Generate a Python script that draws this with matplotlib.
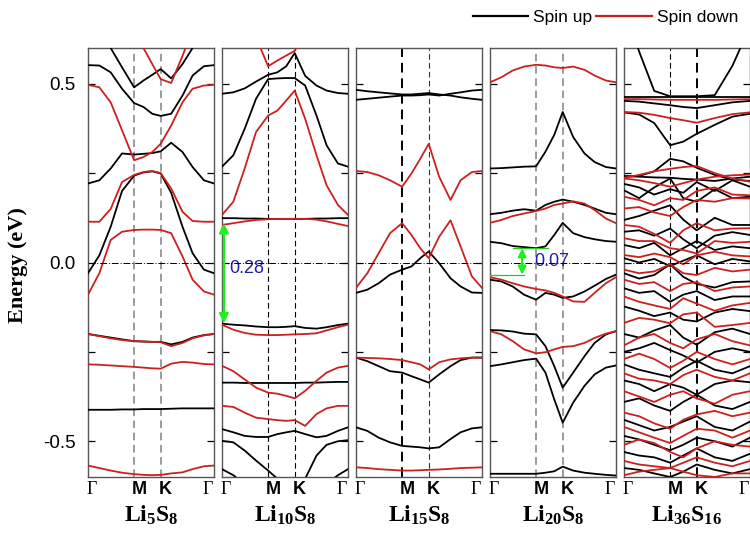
import numpy as np
import matplotlib.pyplot as plt
from matplotlib.lines import Line2D

plt.rcParams['font.family'] = ['Liberation Sans', 'DejaVu Sans']
plt.rcParams['mathtext.fontset'] = 'custom'
plt.rcParams['mathtext.rm'] = 'Liberation Serif'
plt.rcParams['mathtext.bf'] = 'Liberation Serif:bold'
plt.rcParams['axes.unicode_minus'] = False

# k path fractions: Gamma - M - K - Gamma
k13 = [0, 0.09, 0.18, 0.27, 0.366, 0.44, 0.51, 0.577, 0.66, 0.75, 0.83, 0.92, 1.0]
k9 = [0, 0.12, 0.24, 0.366, 0.47, 0.577, 0.72, 0.86, 1.0]
kM, kK = 0.366, 0.577

# ---- Li5S8 ----
li5_up = [
    [0.75, 0.68, 0.60, 0.546, 0.49, 0.509, 0.525, 0.541, 0.515, 0.555, 0.60, 0.68, 0.75],
    [0.552, 0.551, 0.532, 0.486, 0.446, 0.435, 0.416, 0.41, 0.416, 0.467, 0.523, 0.549, 0.552],
    [0.221, 0.23, 0.263, 0.305, 0.302, 0.304, 0.306, 0.311, 0.335, 0.309, 0.267, 0.23, 0.221],
    [-0.03, 0.02, 0.10, 0.20, 0.243, 0.252, 0.255, 0.249, 0.195, 0.10, 0.026, -0.02, -0.03],
    [-0.2, -0.205, -0.21, -0.215, -0.22, -0.221, -0.222, -0.222, -0.229, -0.222, -0.21, -0.203, -0.2],
    [-0.412, -0.412, -0.412, -0.411, -0.411, -0.41, -0.41, -0.41, -0.409, -0.408, -0.408, -0.408, -0.408],
]
li5_dn = [
    [0.8, 0.8, 0.75, 0.7, 0.65, 0.6, 0.555, 0.513, 0.502, 0.578, 0.65, 0.75, 0.8],
    [0.497, 0.49, 0.448, 0.37, 0.286, 0.295, 0.309, 0.332, 0.383, 0.448, 0.486, 0.495, 0.497],
    [0.114, 0.114, 0.15, 0.225, 0.245, 0.253, 0.256, 0.25, 0.207, 0.142, 0.116, 0.114, 0.114],
    [-0.09, -0.03, 0.063, 0.086, 0.091, 0.092, 0.092, 0.091, 0.082, 0.017, -0.048, -0.081, -0.09],
    [-0.2, -0.206, -0.212, -0.217, -0.22, -0.221, -0.222, -0.223, -0.234, -0.225, -0.212, -0.204, -0.2],
    [-0.285, -0.286, -0.288, -0.29, -0.292, -0.294, -0.296, -0.297, -0.283, -0.278, -0.28, -0.284, -0.285],
    [-0.568, -0.575, -0.582, -0.588, -0.592, -0.594, -0.595, -0.594, -0.59, -0.587, -0.578, -0.57, -0.568],
]

# ---- Li10S8 ----
li10_up = [
    [0.472, 0.476, 0.487, 0.506, 0.525, 0.532, 0.549, 0.586, 0.522, 0.495, 0.481, 0.474, 0.472],
    [0.268, 0.30, 0.374, 0.458, 0.513, 0.515, 0.516, 0.516, 0.495, 0.411, 0.328, 0.277, 0.268],
    [0.124, 0.124, 0.123, 0.123, 0.122, 0.122, 0.122, 0.122, 0.122, 0.123, 0.123, 0.124, 0.124],
    [-0.171, -0.174, -0.176, -0.179, -0.181, -0.181, -0.18, -0.178, -0.183, -0.185, -0.181, -0.175, -0.171],
    [-0.336, -0.336, -0.337, -0.337, -0.337, -0.337, -0.337, -0.337, -0.336, -0.336, -0.335, -0.334, -0.334],
    [-0.466, -0.475, -0.485, -0.488, -0.488, -0.48, -0.475, -0.471, -0.48, -0.489, -0.485, -0.471, -0.461],
    [-0.499, -0.503, -0.526, -0.554, -0.582, -0.605, -0.625, -0.64, -0.605, -0.54, -0.51, -0.5, -0.497],
    [-0.578, -0.595, -0.62, -0.7, -0.75, -0.78, -0.8, -0.8, -0.75, -0.68, -0.62, -0.595, -0.578],
]
li10_dn = [
    [0.8, 0.75, 0.7, 0.63, 0.549, 0.565, 0.579, 0.592, 0.65, 0.72, 0.78, 0.8, 0.8],
    [0.133, 0.17, 0.263, 0.365, 0.411, 0.425, 0.453, 0.481, 0.402, 0.30, 0.216, 0.161, 0.133],
    [0.105, 0.11, 0.115, 0.119, 0.121, 0.122, 0.122, 0.122, 0.122, 0.12, 0.115, 0.108, 0.102],
    [-0.174, -0.188, -0.197, -0.202, -0.203, -0.203, -0.202, -0.201, -0.2, -0.198, -0.19, -0.181, -0.174],
    [-0.289, -0.304, -0.327, -0.35, -0.364, -0.367, -0.373, -0.38, -0.359, -0.331, -0.308, -0.294, -0.289],
    [-0.401, -0.404, -0.42, -0.434, -0.438, -0.441, -0.443, -0.441, -0.457, -0.424, -0.408, -0.401, -0.401],
]

# ---- Li15S8 ----
li15_up = [
    [0.483, 0.479, 0.476, 0.473, 0.47, 0.47, 0.472, 0.474, 0.47, 0.467, 0.462, 0.458, 0.455],
    [0.455, 0.458, 0.461, 0.464, 0.467, 0.467, 0.468, 0.47, 0.467, 0.472, 0.476, 0.481, 0.483],
    [-0.085, -0.076, -0.058, -0.034, -0.02, -0.011, 0.012, 0.031, -0.002, -0.044, -0.067, -0.084, -0.085],
    [-0.266, -0.276, -0.29, -0.304, -0.308, -0.318, -0.327, -0.336, -0.313, -0.29, -0.273, -0.266, -0.266],
    [-0.461, -0.471, -0.49, -0.503, -0.513, -0.515, -0.517, -0.52, -0.517, -0.494, -0.475, -0.464, -0.461],
]
li15_dn = [
    [0.256, 0.253, 0.244, 0.23, 0.212, 0.249, 0.29, 0.332, 0.24, 0.175, 0.23, 0.253, 0.256],
    [-0.071, -0.03, 0.026, 0.082, 0.11, 0.077, 0.04, 0.012, 0.072, 0.118, 0.045, -0.039, -0.071],
    [-0.266, -0.267, -0.268, -0.27, -0.273, -0.279, -0.285, -0.299, -0.279, -0.271, -0.268, -0.266, -0.266],
    [-0.573, -0.575, -0.578, -0.58, -0.582, -0.582, -0.581, -0.58, -0.579, -0.577, -0.575, -0.574, -0.573],
]

# ---- Li20S8 ----
li20_up = [
    [0.263, 0.264, 0.266, 0.268, 0.269, 0.31, 0.357, 0.421, 0.351, 0.305, 0.281, 0.267, 0.263],
    [0.135, 0.139, 0.145, 0.149, 0.145, 0.161, 0.17, 0.176, 0.17, 0.161, 0.151, 0.139, 0.135],
    [0.058, 0.054, 0.046, 0.043, 0.04, 0.045, 0.077, 0.111, 0.082, 0.071, 0.065, 0.06, 0.058],
    [-0.048, -0.053, -0.067, -0.09, -0.104, -0.085, -0.09, -0.099, -0.095, -0.081, -0.065, -0.046, -0.034],
    [-0.189, -0.19, -0.193, -0.199, -0.201, -0.234, -0.29, -0.35, -0.308, -0.262, -0.225, -0.201, -0.192],
    [-0.29, -0.285, -0.279, -0.273, -0.269, -0.308, -0.383, -0.448, -0.392, -0.345, -0.313, -0.294, -0.288],
    [-0.591, -0.591, -0.591, -0.591, -0.591, -0.588, -0.584, -0.571, -0.582, -0.588, -0.591, -0.594, -0.596],
]
li20_dn = [
    [0.504, 0.518, 0.537, 0.548, 0.553, 0.551, 0.546, 0.544, 0.548, 0.539, 0.523, 0.509, 0.504],
    [0.111, 0.119, 0.13, 0.137, 0.144, 0.151, 0.161, 0.165, 0.171, 0.165, 0.147, 0.123, 0.11],
    [-0.041, -0.048, -0.058, -0.067, -0.074, -0.078, -0.085, -0.095, -0.109, -0.11, -0.085, -0.058, -0.041],
    [-0.192, -0.201, -0.22, -0.243, -0.254, -0.251, -0.243, -0.236, -0.234, -0.225, -0.211, -0.199, -0.192],
]

# ---- Li36S16 (dense, coarser k grid) ----
li36_up = [
    [0.72, 0.59, 0.48, 0.465, 0.465, 0.465, 0.468, 0.55, 0.66],
    [0.462, 0.462, 0.462, 0.462, 0.462, 0.462, 0.462, 0.462, 0.462],
    [0.452, 0.45, 0.445, 0.44, 0.435, 0.432, 0.44, 0.448, 0.452],
    [0.42, 0.414, 0.39, 0.328, 0.338, 0.36, 0.385, 0.408, 0.416],
    [0.24, 0.242, 0.255, 0.29, 0.283, 0.265, 0.245, 0.232, 0.228],
    [0.242, 0.24, 0.238, 0.237, 0.234, 0.232, 0.228, 0.235, 0.24],
    [0.22, 0.21, 0.19, 0.205, 0.195, 0.225, 0.2, 0.23, 0.212],
    [0.202, 0.18, 0.21, 0.235, 0.18, 0.17, 0.205, 0.18, 0.184],
    [0.119, 0.13, 0.145, 0.16, 0.12, 0.09, 0.125, 0.105, 0.105],
    [0.086, 0.09, 0.075, 0.095, 0.065, 0.04, 0.075, 0.085, 0.077],
    [0.049, 0.04, 0.055, 0.02, 0.04, 0.06, 0.035, 0.045, 0.04],
    [0.012, 0.0, 0.01, -0.01, 0.005, 0.02, -0.005, 0.01, 0.003],
    [-0.03, -0.045, -0.035, -0.005, -0.04, -0.06, -0.07, -0.055, -0.053],
    [-0.072, -0.085, -0.08, -0.11, -0.09, -0.08, -0.105, -0.095, -0.095],
    [-0.123, -0.135, -0.15, -0.14, -0.16, -0.165, -0.14, -0.13, -0.136],
    [-0.2, -0.21, -0.19, -0.175, -0.21, -0.23, -0.195, -0.185, -0.2],
    [-0.25, -0.24, -0.225, -0.245, -0.26, -0.28, -0.25, -0.24, -0.25],
    [-0.285, -0.3, -0.31, -0.32, -0.295, -0.275, -0.3, -0.31, -0.29],
    [-0.33, -0.34, -0.36, -0.34, -0.35, -0.37, -0.34, -0.33, -0.335],
    [-0.39, -0.38, -0.4, -0.415, -0.39, -0.37, -0.4, -0.41, -0.39],
    [-0.44, -0.455, -0.47, -0.46, -0.445, -0.43, -0.46, -0.47, -0.445],
    [-0.485, -0.495, -0.51, -0.525, -0.51, -0.49, -0.5, -0.515, -0.49],
    [-0.53, -0.54, -0.545, -0.56, -0.54, -0.52, -0.545, -0.555, -0.535],
    [-0.575, -0.58, -0.59, -0.6, -0.585, -0.565, -0.58, -0.59, -0.578],
]
li36_dn = [
    [0.457, 0.457, 0.456, 0.455, 0.455, 0.455, 0.455, 0.456, 0.457],
    [0.421, 0.419, 0.413, 0.404, 0.398, 0.391, 0.404, 0.415, 0.42],
    [0.237, 0.245, 0.255, 0.262, 0.267, 0.27, 0.25, 0.235, 0.226],
    [0.235, 0.23, 0.222, 0.212, 0.222, 0.232, 0.24, 0.244, 0.246],
    [0.184, 0.175, 0.16, 0.18, 0.175, 0.2, 0.21, 0.19, 0.188],
    [0.151, 0.155, 0.14, 0.13, 0.155, 0.175, 0.17, 0.18, 0.179],
    [0.105, 0.1, 0.08, 0.055, 0.09, 0.11, 0.09, 0.095, 0.096],
    [0.068, 0.06, 0.06, 0.04, 0.035, 0.025, 0.06, 0.055, 0.058],
    [0.021, 0.015, 0.025, 0.015, -0.005, 0.02, 0.03, 0.02, 0.017],
    [-0.02, -0.03, -0.025, -0.005, -0.03, -0.035, -0.015, -0.025, -0.02],
    [-0.048, -0.06, -0.055, -0.08, -0.06, -0.055, -0.08, -0.07, -0.067],
    [-0.095, -0.11, -0.12, -0.13, -0.1, -0.115, -0.135, -0.12, -0.113],
    [-0.169, -0.155, -0.16, -0.17, -0.145, -0.14, -0.18, -0.175, -0.169],
    [-0.232, -0.21, -0.2, -0.225, -0.24, -0.215, -0.2, -0.22, -0.232],
    [-0.27, -0.255, -0.27, -0.295, -0.275, -0.25, -0.27, -0.285, -0.27],
    [-0.31, -0.325, -0.33, -0.34, -0.315, -0.3, -0.32, -0.33, -0.31],
    [-0.36, -0.375, -0.39, -0.37, -0.36, -0.38, -0.395, -0.37, -0.36],
    [-0.42, -0.43, -0.45, -0.465, -0.44, -0.425, -0.415, -0.43, -0.42],
    [-0.46, -0.475, -0.49, -0.505, -0.485, -0.465, -0.47, -0.49, -0.47],
    [-0.51, -0.495, -0.505, -0.53, -0.545, -0.52, -0.5, -0.51, -0.515],
    [-0.555, -0.565, -0.57, -0.575, -0.56, -0.545, -0.56, -0.57, -0.555],
    [-0.595, -0.585, -0.58, -0.575, -0.585, -0.595, -0.6, -0.59, -0.59],
]

names = [r'$\mathbf{Li_{5}S_{8}}$', r'$\mathbf{Li_{10}S_{8}}$', r'$\mathbf{Li_{15}S_{8}}$',
         r'$\mathbf{Li_{20}S_{8}}$', r'$\mathbf{Li_{36}S_{16}}$']
kgrids = [k13, k13, k13, k13, k9]
ups = [li5_up, li10_up, li15_up, li20_up, li36_up]
dns = [li5_dn, li10_dn, li15_dn, li20_dn, li36_dn]
# style of the dashed M / K guide lines: (color, width)
guide_M = [('#808080', 1.1), ('k', 0.8), ('k', 1.4), ('#808080', 1.1), ('k', 0.8)]
guide_K = [('#808080', 1.1), ('k', 0.8), ('#333333', 0.8), ('#808080', 1.1), ('k', 1.4)]

UP_C = 'black'
DN_C = '#cc2020'

fig = plt.figure(figsize=(7.5, 5.33), dpi=100)
lefts = [88, 222, 356, 490, 624]

for i in range(5):
    ax = fig.add_axes([lefts[i] / 750, 56 / 533, 126 / 750, 429 / 533])
    k = kgrids[i]
    for b in ups[i]:
        ax.plot(k, b, color=UP_C, lw=1.3, zorder=3)
    for b in dns[i]:
        ax.plot(k, b, color=DN_C, lw=1.3, zorder=4)
    c, w = guide_M[i]
    ax.axvline(kM, color=c, lw=w, ls=(0, (5, 3)), zorder=2)
    c, w = guide_K[i]
    ax.axvline(kK, color=c, lw=w, ls=(0, (5, 3)), zorder=2)
    ax.axhline(0, color='k', lw=0.7, ls=(0, (7, 2, 1, 2)), zorder=5)
    ax.set_xlim(0, 1)
    ax.set_ylim(-0.6, 0.6)
    ax.set_xticks([])
    ax.set_yticks([-0.5, 0.0, 0.5])
    ax.set_yticks([-0.25, 0.25], minor=True)
    ax.tick_params(axis='y', which='both', direction='in', length=5, width=0.9,
                   left=True, right=True, labelsize=13.5, pad=9, labelleft=(i == 0))
    for s in ax.spines.values():
        s.set_color('#555555')
        s.set_linewidth(1.0)
    # k-point labels
    tr = ax.get_xaxis_transform()
    ax.text(0.03, -0.03, 'Γ', transform=tr, ha='center', va='center',
            fontsize=13, family='Liberation Serif')
    ax.text(0.95, -0.03, 'Γ', transform=tr, ha='center', va='center',
            fontsize=13, family='Liberation Serif')
    ax.text(0.41, -0.03, 'M', transform=tr, ha='center', va='center',
            fontsize=13, fontweight='bold')
    ax.text(0.61, -0.03, 'K', transform=tr, ha='center', va='center',
            fontsize=13, fontweight='bold')
    ax.text(0.5, -0.104, names[i], transform=ax.transAxes, ha='center', va='baseline',
            fontsize=17)

    if i == 1:
        ax.annotate('', xy=(0.015, 0.11), xytext=(0.015, -0.17),
                    arrowprops=dict(arrowstyle='<|-|>', color='#22ee22', lw=1.6,
                                    mutation_scale=14, shrinkA=0, shrinkB=0), zorder=6)
        ax.text(0.06, -0.016, '0.28', color='#2020a8', fontsize=13, va='center', ha='left')
    if i == 3:
        ax.plot([0.18, 0.46], [0.04, 0.04], color='#22cc22', lw=0.9, zorder=6)
        ax.plot([0.0, 0.27], [-0.034, -0.034], color='#22cc22', lw=0.9, zorder=6)
        ax.annotate('', xy=(0.255, 0.04), xytext=(0.255, -0.034),
                    arrowprops=dict(arrowstyle='<|-|>', color='#22ee22', lw=1.6,
                                    mutation_scale=12, shrinkA=0, shrinkB=0), zorder=6)
        ax.text(0.35, 0.003, '0.07', color='#2020a8', fontsize=13, va='center', ha='left')

fig.text(0.024, 0.503, 'Energy (eV)', rotation=90, ha='center', va='center',
         fontsize=16, fontweight='bold', family='Liberation Serif')

handles = [Line2D([], [], color=UP_C, lw=1.6), Line2D([], [], color=DN_C, lw=1.6)]
fig.legend(handles, ['Spin up', 'Spin down'], loc='upper right', bbox_to_anchor=(1.005, 1.01),
           ncol=2, frameon=False, fontsize=12.5, handlelength=3.2, handletextpad=0.3,
           columnspacing=0.2)

fig.savefig('out.png', dpi=100)
